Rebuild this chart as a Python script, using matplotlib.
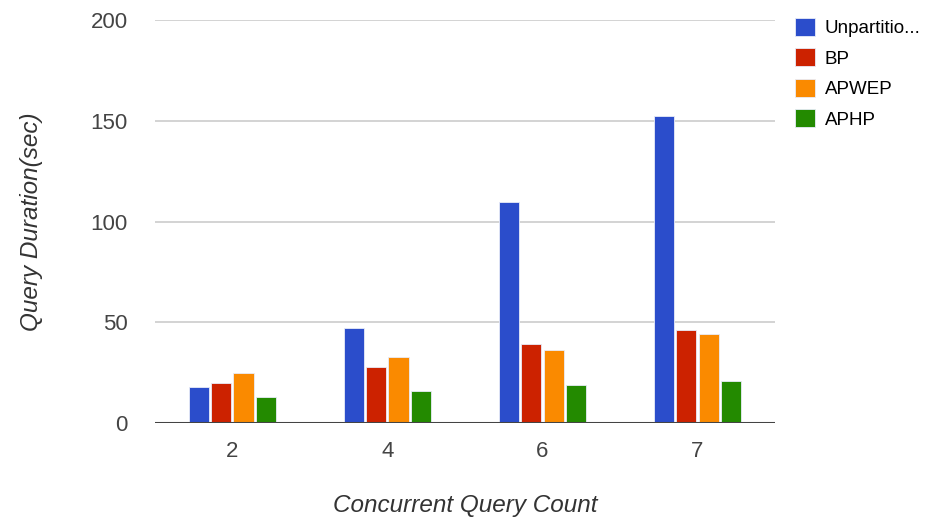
import numpy as np
import matplotlib
matplotlib.use("Agg")
import matplotlib.pyplot as plt

plt.rcParams['font.family'] = ['Liberation Sans', 'DejaVu Sans']

# data
query_counts = ["2", "4", "6", "7"]
unpartitioned = [17.7, 47.3, 109.5, 152.5]
bp = [19.9, 28.0, 39.2, 46.2]
apwep = [25.0, 33.0, 36.0, 44.2]
aphp = [12.7, 15.8, 18.7, 20.7]

series_names = ["Unpartitio...", "BP", "APWEP", "APHP"]
series_values = [unpartitioned, bp, apwep, aphp]
colors = ["#2B4DCB", "#CC2200", "#FA8A00", "#238A00"]

fig = plt.figure(figsize=(9.41, 5.24), dpi=100)
ax = fig.add_axes([0.1647, 0.1927, 0.6589, 0.7691])

x = np.arange(len(query_counts))
pitch = 0.145
width = 0.132
for i, (name, vals, c) in enumerate(zip(series_names, series_values, colors)):
    offs = (i - 1.5) * pitch
    ax.bar(x + offs, vals, width=width, color=c, edgecolor="#E8ECF8", linewidth=0.6,
           label=name, zorder=3)

ax.set_xlim(-0.5, len(query_counts) - 0.5)
ax.set_ylim(0, 200)
ax.set_yticks([0, 50, 100, 150, 200])
ax.set_xticks(x)
ax.set_xticklabels(query_counts)
ax.grid(axis="y", color="#CCCCCC", linewidth=1.2, zorder=0)
ax.axhline(0, color="#444444", linewidth=2.2, zorder=4)

for s in ax.spines.values():
    s.set_visible(False)
ax.tick_params(axis="both", length=0, labelsize=16, colors="#444444")
ax.tick_params(axis="y", pad=19.5)
ax.tick_params(axis="x", pad=13)

ax.set_xlabel("Concurrent Query Count", fontsize=17.5, style="italic", color="#333333", labelpad=23)
ax.set_ylabel("Query Duration(sec)", fontsize=17.5, style="italic", color="#333333", labelpad=34)

ax.legend(loc="upper left", bbox_to_anchor=(795 / 941, 1 - 18 / 524),
          bbox_transform=fig.transFigure, frameon=False, fontsize=13.5,
          handlelength=1.07, handleheight=1.07, handletextpad=0.53, labelspacing=0.6,
          borderpad=0, borderaxespad=0)

fig.savefig("out.png", dpi=100)
